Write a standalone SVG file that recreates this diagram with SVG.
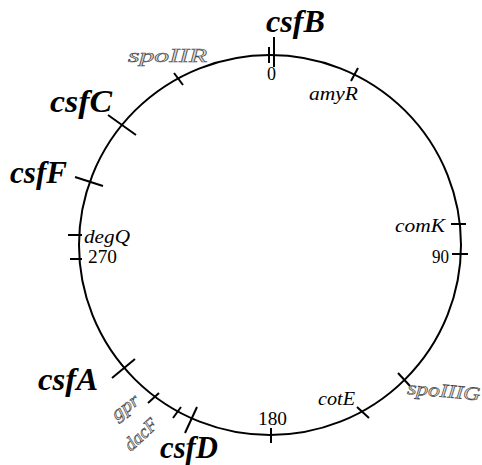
<svg xmlns="http://www.w3.org/2000/svg" width="482" height="465" viewBox="0 0 482 465">
<style>
.tk{stroke:#000;stroke-width:2;fill:none}
.big{font-family:"Liberation Serif",serif;font-weight:bold;font-style:italic;font-size:31px;fill:#000}
.gene{font-family:"Liberation Serif",serif;font-style:italic;font-size:19px;fill:#000}
.grey{font-family:"Liberation Serif",serif;font-style:italic;font-size:19px;fill:#ddd;stroke:#444;stroke-width:0.6}
.num{font-family:"Liberation Serif",serif;font-size:18px;fill:#000}
</style>
<rect width="482" height="465" fill="#fff"/>
<g id="chromosome">
<ellipse cx="270" cy="245" rx="191" ry="190" class="tk"/>
</g>
<g id="connectors">
<line class="tk" x1="269" y1="47" x2="269" y2="63"/>
<line class="tk" x1="274" y1="37" x2="274" y2="67"/>
<line class="tk" x1="174" y1="73" x2="183" y2="85"/>
<line class="tk" x1="351" y1="81" x2="358" y2="68"/>
<line class="tk" x1="108" y1="115" x2="136" y2="135"/>
<line class="tk" x1="75" y1="177" x2="103" y2="186"/>
<line class="tk" x1="68" y1="235" x2="82" y2="235"/>
<line class="tk" x1="70" y1="259" x2="82" y2="259"/>
<line class="tk" x1="112" y1="378" x2="135" y2="359"/>
<line class="tk" x1="148" y1="403" x2="159" y2="393"/>
<line class="tk" x1="173" y1="418" x2="181" y2="407"/>
<line class="tk" x1="185" y1="433" x2="197" y2="407"/>
<line class="tk" x1="271" y1="428" x2="271" y2="443"/>
<line class="tk" x1="357" y1="407" x2="369" y2="418"/>
<line class="tk" x1="398" y1="373" x2="410" y2="386"/>
<line class="tk" x1="451" y1="224" x2="466" y2="224"/>
<line class="tk" x1="452" y1="254" x2="468" y2="254"/>
</g>
<g id="csfB"><text class="big" x="266" y="32" textLength="59" lengthAdjust="spacingAndGlyphs">csfB</text></g>
<g id="csfC"><text class="big" x="50" y="112" textLength="62" lengthAdjust="spacingAndGlyphs">csfC</text></g>
<g id="csfF"><text class="big" x="10" y="183" textLength="57" lengthAdjust="spacingAndGlyphs">csfF</text></g>
<g id="csfA"><text class="big" x="38" y="390" textLength="60" lengthAdjust="spacingAndGlyphs">csfA</text></g>
<g id="csfD"><text class="big" x="160" y="458" textLength="58" lengthAdjust="spacingAndGlyphs">csfD</text></g>
<g id="pos0"><text class="num" x="267" y="80">0</text></g>
<g id="pos90"><text class="num" x="432" y="263" textLength="17" lengthAdjust="spacingAndGlyphs">90</text></g>
<g id="pos180"><text class="num" x="258" y="425" textLength="29" lengthAdjust="spacingAndGlyphs">180</text></g>
<g id="pos270"><text class="num" x="88" y="263" textLength="29" lengthAdjust="spacingAndGlyphs">270</text></g>
<g id="amyR"><text class="gene" x="309" y="100" textLength="49" lengthAdjust="spacingAndGlyphs">amyR</text></g>
<g id="degQ"><text class="gene" x="84" y="243" textLength="46" lengthAdjust="spacingAndGlyphs">degQ</text></g>
<g id="comK"><text class="gene" x="395" y="232" textLength="50" lengthAdjust="spacingAndGlyphs">comK</text></g>
<g id="cotE"><text class="gene" x="318" y="405" textLength="37" lengthAdjust="spacingAndGlyphs">cotE</text></g>
<g id="spoIIR"><text class="grey" x="128" y="62" textLength="79" lengthAdjust="spacingAndGlyphs">spoIIR</text></g>
<g id="spoIIIG"><text class="grey" x="407" y="394" textLength="73" lengthAdjust="spacingAndGlyphs" transform="rotate(5 407 394)">spoIIIG</text></g>
<g id="gpr"><text class="grey" x="117" y="421" textLength="30" lengthAdjust="spacingAndGlyphs" transform="rotate(-38 117 421)">gpr</text></g>
<g id="dacF"><text class="grey" x="131" y="452" textLength="38" lengthAdjust="spacingAndGlyphs" transform="rotate(-43 131 452)">dacF</text></g>
</svg>
